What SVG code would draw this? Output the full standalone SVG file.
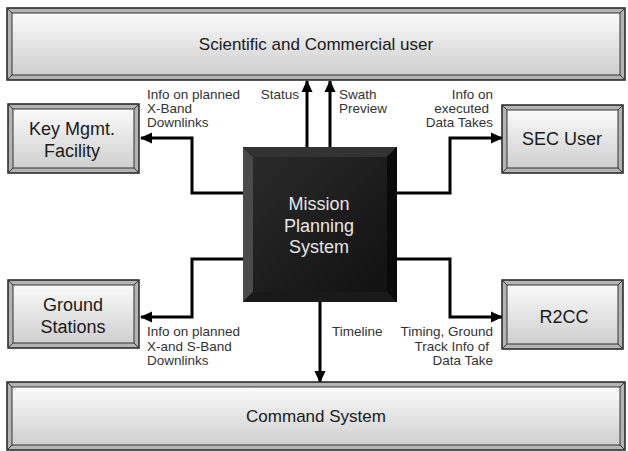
<svg xmlns="http://www.w3.org/2000/svg" width="628" height="451" viewBox="0 0 628 451">
<style>
.frame{fill:#b4b4b4;stroke:#222;stroke-width:1.5}
.face{fill:url(#gface);stroke:#333;stroke-width:1}
.corner{stroke:#333;stroke-width:1}
.ntxt{font-family:"Liberation Sans",Arial,sans-serif;font-size:18px;fill:#1a1a1a;text-anchor:middle}
.mtxt{font-family:"Liberation Sans",Arial,sans-serif;font-size:18px;fill:#e6e6e6;text-anchor:middle}
.lbl{font-family:"Liberation Sans",Arial,sans-serif;font-size:13.5px;fill:#333}
.conn{fill:none;stroke:#000;stroke-width:3}
</style>
<defs>
<linearGradient id="gface" x1="0" y1="0" x2="0" y2="1">
<stop offset="0" stop-color="#fafafa"/>
<stop offset="1" stop-color="#cfcfcf"/>
</linearGradient>
<linearGradient id="gdark" x1="0" y1="0" x2="1" y2="1">
<stop offset="0" stop-color="#2a2a2a"/>
<stop offset="1" stop-color="#111"/>
</linearGradient>
<marker id="arr" markerUnits="userSpaceOnUse" markerWidth="12" markerHeight="12" viewBox="0 0 12 12" refX="11" refY="6" orient="auto">
<path d="M0,0.5 L12,6 L0,11.5 Z" fill="#000"/>
</marker>
</defs>

<g id="connectors">
<path class="conn" d="M243,193 H192 V138 H141" marker-end="url(#arr)"/>
<path class="conn" d="M397,193 H450 V138 H502" marker-end="url(#arr)"/>
<path class="conn" d="M243,259 H192 V317 H141" marker-end="url(#arr)"/>
<path class="conn" d="M397,259 H450 V317 H502" marker-end="url(#arr)"/>
<path class="conn" d="M307,147 V81" marker-end="url(#arr)"/>
<path class="conn" d="M330,147 V81" marker-end="url(#arr)"/>
<path class="conn" d="M320,302 V382" marker-end="url(#arr)"/>
</g>

<g id="scientific-user">
<rect class="frame" x="7" y="8" width="618" height="72"/>
<rect class="face" x="12" y="13" width="608" height="62"/>
<path class="corner" d="M7,8 L12,13 M625,8 L620,13 M7,80 L12,75 M625,80 L620,75"/>
<text class="ntxt" x="316" y="50" style="font-size:17px">Scientific and Commercial user</text>
</g>

<g id="key-mgmt">
<rect class="frame" x="8" y="104" width="131" height="69"/>
<rect class="face" x="13" y="109" width="121" height="59"/>
<path class="corner" d="M8,104 L13,109 M139,104 L134,109 M8,173 L13,168 M139,173 L134,168"/>
<text class="ntxt" x="72" y="135">Key Mgmt.</text>
<text class="ntxt" x="72" y="157">Facility</text>
</g>

<g id="sec-user">
<rect class="frame" x="502" y="105" width="121" height="68"/>
<rect class="face" x="507" y="110" width="111" height="58"/>
<path class="corner" d="M502,105 L507,110 M623,105 L618,110 M502,173 L507,168 M623,173 L618,168"/>
<text class="ntxt" x="562" y="145">SEC User</text>
</g>

<g id="ground-stations">
<rect class="frame" x="8" y="280" width="131" height="68"/>
<rect class="face" x="13" y="285" width="121" height="58"/>
<path class="corner" d="M8,280 L13,285 M139,280 L134,285 M8,348 L13,343 M139,348 L134,343"/>
<text class="ntxt" x="73" y="311">Ground</text>
<text class="ntxt" x="73" y="333">Stations</text>
</g>

<g id="r2cc">
<rect class="frame" x="502" y="280" width="121" height="69"/>
<rect class="face" x="507" y="285" width="111" height="59"/>
<path class="corner" d="M502,280 L507,285 M623,280 L618,285 M502,349 L507,344 M623,349 L618,344"/>
<text class="ntxt" x="564" y="323">R2CC</text>
</g>

<g id="command-system">
<rect class="frame" x="7" y="382" width="618" height="68"/>
<rect class="face" x="12" y="387" width="608" height="58"/>
<path class="corner" d="M7,382 L12,387 M625,382 L620,387 M7,450 L12,445 M625,450 L620,445"/>
<text class="ntxt" x="316" y="422" style="font-size:17px">Command System</text>
</g>

<g id="mission-planning">
<rect x="243" y="147" width="154" height="155" fill="#000"/>
<polygon points="243,147 253,157 253,292 243,302" fill="#4a4a4a"/>
<polygon points="243,147 397,147 387,157 253,157" fill="#333"/>
<polygon points="397,147 397,302 387,292 387,157" fill="#0a0a0a"/>
<polygon points="243,302 397,302 387,292 253,292" fill="#1a1a1a"/>
<rect x="253" y="157" width="134" height="135" fill="url(#gdark)"/>
<text class="mtxt" x="319" y="210">Mission</text>
<text class="mtxt" x="319" y="232">Planning</text>
<text class="mtxt" x="319" y="253">System</text>
</g>

<g id="labels">
<text class="lbl" x="147" y="99">Info on planned</text>
<text class="lbl" x="147" y="113">X-Band</text>
<text class="lbl" x="147" y="127">Downlinks</text>
<text class="lbl" x="299" y="99" text-anchor="end">Status</text>
<text class="lbl" x="339" y="99">Swath</text>
<text class="lbl" x="339" y="113">Preview</text>
<text class="lbl" x="493" y="99" text-anchor="end">Info on</text>
<text class="lbl" x="489" y="113" text-anchor="end">executed</text>
<text class="lbl" x="493" y="127" text-anchor="end">Data Takes</text>
<text class="lbl" x="147" y="336">Info on planned</text>
<text class="lbl" x="147" y="351">X-and S-Band</text>
<text class="lbl" x="147" y="365">Downlinks</text>
<text class="lbl" x="332" y="336">Timeline</text>
<text class="lbl" x="493" y="336" text-anchor="end">Timing, Ground</text>
<text class="lbl" x="489" y="351" text-anchor="end">Track Info of</text>
<text class="lbl" x="493" y="365" text-anchor="end">Data Take</text>
</g>
</svg>
